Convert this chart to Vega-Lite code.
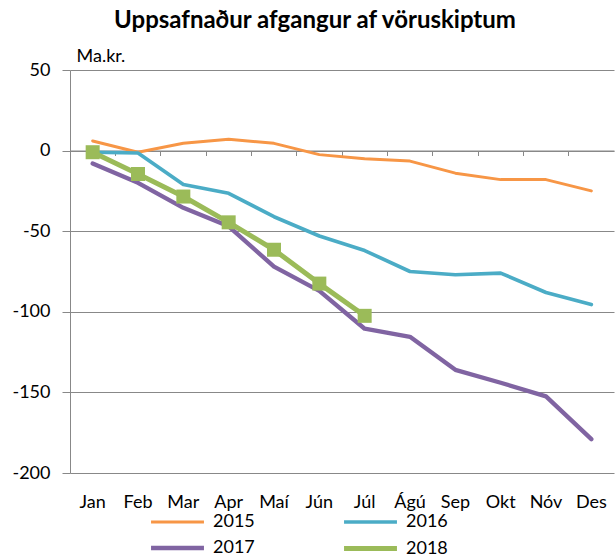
{
  "$schema": "https://vega.github.io/schema/vega-lite/v6.json",
  "width": 544,
  "height": 403,
  "autosize": {"type": "none"},
  "padding": {"left": 70, "top": 70, "right": 1, "bottom": 83},
  "background": "white",
  "title": {"text": "Uppsafnaður afgangur af vöruskiptum", "font": "Lato", "fontSize": 24, "fontWeight": "bold", "color": "#000000", "anchor": "middle", "dx": -27, "offset": 14},
  "config": {"view": {"stroke": null}, "font": "Lato"},
  "data": {"values": [
    {"month": "Jan", "year": "2015", "value": 6},
    {"month": "Feb", "year": "2015", "value": -1},
    {"month": "Mar", "year": "2015", "value": 4.5},
    {"month": "Apr", "year": "2015", "value": 7},
    {"month": "Maí", "year": "2015", "value": 4.5},
    {"month": "Jún", "year": "2015", "value": -2.5},
    {"month": "Júl", "year": "2015", "value": -5},
    {"month": "Ágú", "year": "2015", "value": -6.5},
    {"month": "Sep", "year": "2015", "value": -14},
    {"month": "Okt", "year": "2015", "value": -18},
    {"month": "Nóv", "year": "2015", "value": -18},
    {"month": "Des", "year": "2015", "value": -25},
    {"month": "Jan", "year": "2016", "value": -1},
    {"month": "Feb", "year": "2016", "value": -1.5},
    {"month": "Mar", "year": "2016", "value": -21},
    {"month": "Apr", "year": "2016", "value": -26.5},
    {"month": "Maí", "year": "2016", "value": -41},
    {"month": "Jún", "year": "2016", "value": -53},
    {"month": "Júl", "year": "2016", "value": -62},
    {"month": "Ágú", "year": "2016", "value": -75},
    {"month": "Sep", "year": "2016", "value": -77},
    {"month": "Okt", "year": "2016", "value": -76},
    {"month": "Nóv", "year": "2016", "value": -88},
    {"month": "Des", "year": "2016", "value": -95.5},
    {"month": "Jan", "year": "2017", "value": -8},
    {"month": "Feb", "year": "2017", "value": -20},
    {"month": "Mar", "year": "2017", "value": -35.5},
    {"month": "Apr", "year": "2017", "value": -47},
    {"month": "Maí", "year": "2017", "value": -72},
    {"month": "Jún", "year": "2017", "value": -87},
    {"month": "Júl", "year": "2017", "value": -110.5},
    {"month": "Ágú", "year": "2017", "value": -115.5},
    {"month": "Sep", "year": "2017", "value": -136},
    {"month": "Okt", "year": "2017", "value": -144},
    {"month": "Nóv", "year": "2017", "value": -152.5},
    {"month": "Des", "year": "2017", "value": -179},
    {"month": "Jan", "year": "2018", "value": -1},
    {"month": "Feb", "year": "2018", "value": -14.5},
    {"month": "Mar", "year": "2018", "value": -28.5},
    {"month": "Apr", "year": "2018", "value": -44.5},
    {"month": "Maí", "year": "2018", "value": -61.5},
    {"month": "Jún", "year": "2018", "value": -82.5},
    {"month": "Júl", "year": "2018", "value": -102.5}
  ]},
  "resolve": {"axis": {"x": "independent"}},
  "layer": [
    {
      "mark": {"type": "line", "strokeCap": "round", "strokeJoin": "round"},
      "encoding": {
        "x": {
          "field": "month", "type": "ordinal",
          "sort": ["Jan", "Feb", "Mar", "Apr", "Maí", "Jún", "Júl", "Ágú", "Sep", "Okt", "Nóv", "Des"],
          "scale": {"type": "band", "paddingInner": 0, "paddingOuter": 0},
          "axis": {"orient": "bottom", "title": null, "domain": false, "ticks": false, "tickSize": 0, "grid": false, "labelAngle": 0, "labelFontSize": 18, "labelColor": "#000000", "labelPadding": 20, "labelFont": "Lato"}
        },
        "y": {
          "field": "value", "type": "quantitative",
          "scale": {"domain": [-200, 50], "nice": false, "zero": false},
          "axis": {
            "values": [-200, -150, -100, -50, 0, 50],
            "labelExpr": "datum.value < 0 ? '-' + abs(datum.value) : '' + datum.value",
            "grid": true, "gridColor": "#888888", "gridWidth": 1,
            "domainColor": "#888888", "tickColor": "#888888", "tickSize": 8,
            "labelPadding": 12, "labelFontSize": 18, "labelColor": "#000000", "labelFont": "Lato",
            "title": "Ma.kr.", "titleAngle": 0, "titleX": 6, "titleY": -9, "titleAlign": "left", "titleBaseline": "alphabetic",
            "titleFontWeight": "normal", "titleFontSize": 18, "titleFont": "Lato", "titleColor": "#000000"
          }
        },
        "color": {
          "field": "year", "type": "nominal",
          "scale": {"domain": ["2015", "2016", "2017", "2018"], "range": ["#F79646", "#4BACC6", "#8064A2", "#9BBB59"]},
          "legend": {"title": null, "orient": "none", "legendX": 98, "legendY": 443, "columns": 2, "direction": "horizontal", "symbolType": "M-4,0H4", "symbolSize": 175, "labelFontSize": 18, "labelFont": "Lato", "labelColor": "#000000", "labelOffset": 26, "columnPadding": 79, "rowPadding": 7}
        },
        "strokeWidth": {
          "field": "year", "type": "nominal",
          "scale": {"domain": ["2015", "2016", "2017", "2018"], "range": [3, 5, 5, 5]},
          "legend": {"title": null, "orient": "none", "legendX": 98, "legendY": 443, "columns": 2, "direction": "horizontal", "symbolType": "M-4,0H4", "symbolSize": 175, "labelFontSize": 18, "labelFont": "Lato", "labelColor": "#000000", "labelOffset": 26, "columnPadding": 79, "rowPadding": 7}
        }
      }
    },
    {
      "transform": [{"filter": "datum.year == '2018'"}],
      "mark": {"type": "point", "shape": "square", "filled": true, "size": 196, "color": "#9BBB59", "opacity": 1},
      "encoding": {
        "x": {
          "field": "month", "type": "ordinal",
          "sort": ["Jan", "Feb", "Mar", "Apr", "Maí", "Jún", "Júl", "Ágú", "Sep", "Okt", "Nóv", "Des"],
          "axis": {"orient": "bottom", "offset": -322.5, "title": null, "labels": false, "domain": true, "domainColor": "#888888", "ticks": true, "tickSize": 5, "tickColor": "#888888", "bandPosition": 0, "grid": false}
        },
        "y": {"field": "value", "type": "quantitative"}
      }
    }
  ]
}
